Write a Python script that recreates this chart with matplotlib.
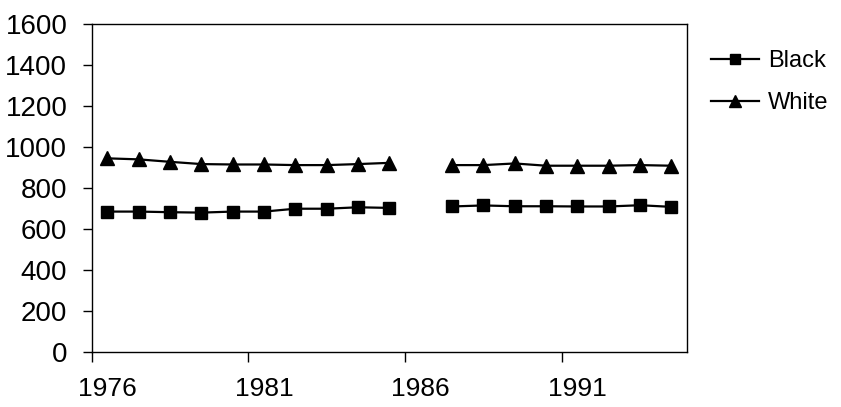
#!/usr/bin/env python3
import numpy as np
from matplotlib import pyplot as plt
from matplotlib.ticker import FixedLocator, NullFormatter

# one category per year, 1986 is missing in both series
years = np.arange(1976, 1995)
black = [684, 684, 681, 679, 684, 684, 698, 698, 705, 702,
         np.nan, 709, 714, 710, 710, 709, 709, 715, 707]
white = [944, 939, 927, 916, 914, 914, 911, 911, 916, 922,
         np.nan, 911, 911, 919, 908, 908, 908, 911, 908]
label_years = [1976, 1981, 1986, 1991]
y_ticks = np.arange(0, 1601, 200)


def main():
    plt.rcParams['font.family'] = ['Liberation Sans', 'DejaVu Sans']
    fig = plt.figure(figsize=(8.41, 4.07), dpi=100)
    ax = fig.add_axes([0.109, 0.136, 0.708, 0.805])

    ax.plot(years, black, color='black', lw=1.6, marker='s', ms=8,
            label='Black')
    ax.plot(years, white, color='black', lw=1.6, marker='^', ms=9.5,
            label='White')

    ax.set_xlim(years[0] - 0.5, years[-1] + 0.5)
    ax.set_ylim(0, 1600)
    ax.set_yticks(y_ticks)

    # excel style category axis: ticks between categories, labels centred
    ax.xaxis.set_major_locator(FixedLocator([y - 0.5 for y in label_years]))
    ax.xaxis.set_major_formatter(NullFormatter())
    ax.xaxis.set_minor_locator(FixedLocator(label_years))
    ax.set_xticklabels([str(y) for y in label_years], minor=True)
    ax.tick_params(axis='x', which='major', direction='out', length=7,
                   width=1.0)
    ax.tick_params(axis='x', which='minor', length=0, pad=18, labelsize=19)
    ax.tick_params(axis='y', direction='out', length=6.5, width=1.0,
                   pad=11, labelsize=20)

    for side in ax.spines.values():
        side.set_linewidth(1.0)
        side.set_color('black')

    ax.legend(loc='center left', bbox_to_anchor=(0.846, 0.7985),
              bbox_transform=fig.transFigure, frameon=False, fontsize=17,
              handlelength=2.0, handletextpad=0.4, labelspacing=0.85,
              borderpad=0, borderaxespad=0, markerscale=0.85)

    plt.savefig('out.png', dpi=100)


if __name__ == "__main__":
    main()
